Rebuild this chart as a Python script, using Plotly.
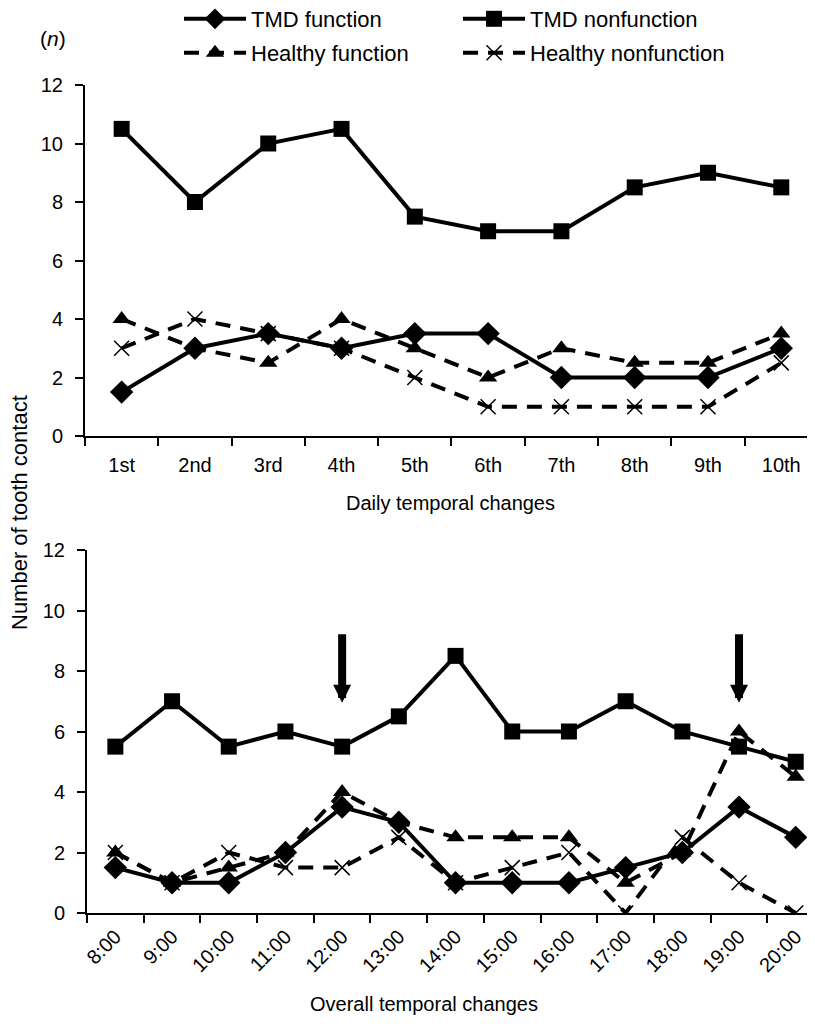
import plotly.graph_objects as go

# ---------------- data ----------------
daily_labels = ["1st", "2nd", "3rd", "4th", "5th", "6th", "7th", "8th", "9th", "10th"]
daily_tmd_function = [1.5, 3, 3.5, 3, 3.5, 3.5, 2, 2, 2, 3]
daily_tmd_nonfunction = [10.5, 8, 10, 10.5, 7.5, 7, 7, 8.5, 9, 8.5]
daily_healthy_function = [4, 3, 2.5, 4, 3, 2, 3, 2.5, 2.5, 3.5]
daily_healthy_nonfunction = [3, 4, 3.5, 3, 2, 1, 1, 1, 1, 2.5]

hour_labels = ["8:00", "9:00", "10:00", "11:00", "12:00", "13:00", "14:00",
               "15:00", "16:00", "17:00", "18:00", "19:00", "20:00"]
hour_tmd_function = [1.5, 1, 1, 2, 3.5, 3, 1, 1, 1, 1.5, 2, 3.5, 2.5]
hour_tmd_nonfunction = [5.5, 7, 5.5, 6, 5.5, 6.5, 8.5, 6, 6, 7, 6, 5.5, 5]
hour_healthy_function = [2, 1, 1.5, 2, 4, 3, 2.5, 2.5, 2.5, 1, 2, 6, 4.5]
hour_healthy_nonfunction = [2, 1, 2, 1.5, 1.5, 2.5, 1, 1.5, 2, 0, 2.5, 1, 0]

arrow_hours = ["12:00", "19:00"]
arrow_tip_value = 6.95

y_ticks = [0, 2, 4, 6, 8, 10, 12]

series_names = ["TMD function", "TMD nonfunction", "Healthy function", "Healthy nonfunction"]

# ---------------- layout constants ----------------
# The page body has an 8px margin, so the figure is drawn 8px in from the page corner.
OFF = 8
W, H = 815 - OFF, 1024 - OFF
L, R, T, B = 85 - OFF, 0, 0, 0
PW = W - L - R
FONT = "Liberation Sans, Arial, sans-serif"


def px_x(page_px):
    return (page_px - OFF - L) / PW


def px_y(page_py):
    return 1 - (page_py - OFF) / H


styles = {
    "TMD function": dict(line=dict(color="black", width=4),
                         marker=dict(symbol="diamond", size=18, color="black")),
    "TMD nonfunction": dict(line=dict(color="black", width=4),
                            marker=dict(symbol="square", size=16, color="black")),
    "Healthy function": dict(line=dict(color="black", width=4, dash="15px,10px"),
                             marker=dict(symbol="triangle-up", size=16, color="black")),
    "Healthy nonfunction": dict(line=dict(color="black", width=4, dash="15px,10px"),
                                marker=dict(symbol="x-thin-open", size=15, color="black",
                                            line=dict(color="black", width=1.5))),
}
legend_of = {"TMD function": "legend", "TMD nonfunction": "legend",
             "Healthy function": "legend2", "Healthy nonfunction": "legend2"}

fig = go.Figure()

daily = [daily_tmd_function, daily_tmd_nonfunction, daily_healthy_function, daily_healthy_nonfunction]
hourly = [hour_tmd_function, hour_tmd_nonfunction, hour_healthy_function, hour_healthy_nonfunction]

for name, vals in zip(series_names, daily):
    fig.add_trace(go.Scatter(x=daily_labels, y=vals, mode="lines+markers", name=name,
                             legend=legend_of[name], xaxis="x", yaxis="y", **styles[name]))
for name, vals in zip(series_names, hourly):
    fig.add_trace(go.Scatter(x=hour_labels, y=vals, mode="lines+markers", name=name,
                             showlegend=False, xaxis="x2", yaxis="y2", **styles[name]))

axis_common = dict(showline=True, linecolor="black", linewidth=2, ticks="outside",
                   tickcolor="black", tickwidth=2, ticklen=8, showgrid=False, zeroline=False,
                   automargin=False,
                   tickfont=dict(family=FONT, size=20, color="black"))

legend_common = dict(orientation="h", xref="paper", yref="paper", xanchor="left",
                     yanchor="middle", entrywidth=202, itemwidth=62,
                     bgcolor="rgba(0,0,0,0)", borderwidth=0,
                     font=dict(family=FONT, size=22, color="black"))

fig.update_layout(
    width=W, height=H,
    margin=dict(l=L, r=R, t=T, b=B, autoexpand=False),
    paper_bgcolor="white", plot_bgcolor="white",
    font=dict(family=FONT, size=20, color="black"),
    xaxis=dict(type="category", domain=[0, 1], range=[-0.5, 9.46], tickson="boundaries",
               ticklabelstandoff=10, anchor="y", **axis_common),
    yaxis=dict(domain=[px_y(436), px_y(85)], range=[0, 12], tickvals=y_ticks,
               ticklabelstandoff=8, anchor="x", **axis_common),
    xaxis2=dict(type="category", domain=[px_x(87), 1], range=[-0.5, 12.34], tickson="boundaries",
                tickangle=-45, ticklabelstandoff=2, anchor="y2", **axis_common),
    yaxis2=dict(domain=[px_y(913), px_y(550)], range=[0, 12], tickvals=y_ticks,
                ticklabelstandoff=8, anchor="x2", **axis_common),
    legend=dict(x=px_x(179), y=px_y(19), **legend_common),
    legend2=dict(x=px_x(179), y=px_y(53), **legend_common),
    showlegend=True,
)

annotations = [
    dict(text="Daily temporal changes", xref="paper", yref="paper", x=px_x(450), y=px_y(503),
         showarrow=False, font=dict(family=FONT, size=20), xanchor="center", yanchor="middle"),
    dict(text="Overall temporal changes", xref="paper", yref="paper", x=px_x(424), y=px_y(1004),
         showarrow=False, font=dict(family=FONT, size=20), xanchor="center", yanchor="middle"),
    dict(text="Number of tooth contact", xref="paper", yref="paper", x=px_x(19), y=px_y(513),
         showarrow=False, textangle=-90, font=dict(family=FONT, size=22),
         xanchor="center", yanchor="middle"),
    dict(text="(<i>n</i>)", xref="paper", yref="paper", x=px_x(53), y=px_y(39),
         showarrow=False, font=dict(family=FONT, size=21), xanchor="center", yanchor="middle"),
]
for h in arrow_hours:
    annotations.append(dict(x=h, y=arrow_tip_value, xref="x2", yref="y2", text="",
                            showarrow=True, ax=0, ay=-70, axref="pixel", ayref="pixel",
                            arrowhead=2, arrowsize=0.45, arrowwidth=8, arrowcolor="black",
                            standoff=0))
fig.update_layout(annotations=annotations)

fig.write_html("out.html")
